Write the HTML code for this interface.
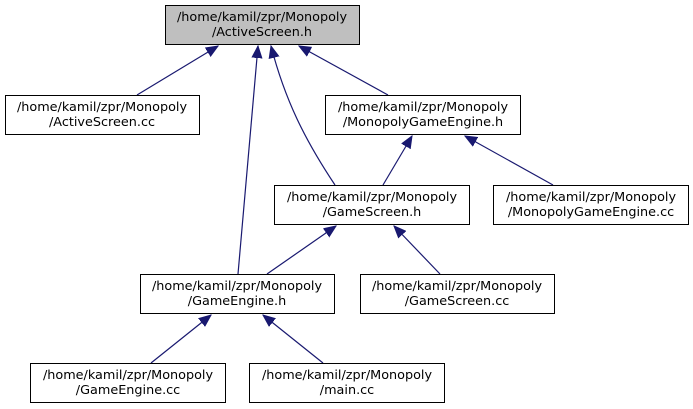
<!DOCTYPE html>
<html><head><meta charset="utf-8"><style>
html,body{margin:0;padding:0;background:#fff;}
svg{display:block;}
text{font-family:"DejaVu Sans","Liberation Sans",sans-serif;font-size:12.8px;fill:#000;}
</style></head><body>
<svg width="693" height="409" viewBox="0 0 693 409" xmlns="http://www.w3.org/2000/svg">
<defs>
<marker id="a" markerWidth="13" markerHeight="11" refX="12" refY="5.5" orient="auto" markerUnits="userSpaceOnUse">
<path d="M0,0.5 L12,5.5 L0,10.5 Z" fill="#191970" stroke="#191970"/>
</marker>
</defs>
<g stroke="#191970" stroke-width="1.2" fill="none">
<path d="M137,95 L218,46" marker-end="url(#a)"/>
<path d="M238,274 L258,46" marker-end="url(#a)"/>
<path d="M335,185 C305,140 285,100 271,46" marker-end="url(#a)"/>
<path d="M388,95 L299,46" marker-end="url(#a)"/>
<path d="M383,185 L412,136" marker-end="url(#a)"/>
<path d="M553,185 L465,136" marker-end="url(#a)"/>
<path d="M267,274 L336,226" marker-end="url(#a)"/>
<path d="M440,274 L394,226" marker-end="url(#a)"/>
<path d="M151,363 L211,315" marker-end="url(#a)"/>
<path d="M323,363 L263,315" marker-end="url(#a)"/>
</g>
<g stroke="#000" stroke-width="1">
<rect x="165.5" y="5.5" width="194" height="39" fill="#bfbfbf"/>
<rect x="5.5" y="95.5" width="194" height="39" fill="#fff"/>
<rect x="325.5" y="95.5" width="195" height="39" fill="#fff"/>
<rect x="274.5" y="185.5" width="195" height="39" fill="#fff"/>
<rect x="493.5" y="185.5" width="195" height="39" fill="#fff"/>
<rect x="140.5" y="274.5" width="194" height="39" fill="#fff"/>
<rect x="360.5" y="274.5" width="194" height="39" fill="#fff"/>
<rect x="30.5" y="363.5" width="195" height="39" fill="#fff"/>
<rect x="249.5" y="363.5" width="195" height="39" fill="#fff"/>
</g>
<g text-anchor="middle">
<text x="262" y="21">/home/kamil/zpr/Monopoly</text><text x="262" y="36">/ActiveScreen.h</text>
<text x="102" y="111">/home/kamil/zpr/Monopoly</text><text x="102" y="126">/ActiveScreen.cc</text>
<text x="423" y="111">/home/kamil/zpr/Monopoly</text><text x="423" y="126">/MonopolyGameEngine.h</text>
<text x="372" y="201">/home/kamil/zpr/Monopoly</text><text x="372" y="216">/GameScreen.h</text>
<text x="591" y="201">/home/kamil/zpr/Monopoly</text><text x="591" y="216">/MonopolyGameEngine.cc</text>
<text x="237" y="290">/home/kamil/zpr/Monopoly</text><text x="237" y="305">/GameEngine.h</text>
<text x="457" y="290">/home/kamil/zpr/Monopoly</text><text x="457" y="305">/GameScreen.cc</text>
<text x="128" y="379">/home/kamil/zpr/Monopoly</text><text x="128" y="394">/GameEngine.cc</text>
<text x="347" y="379">/home/kamil/zpr/Monopoly</text><text x="347" y="394">/main.cc</text>
</g>
</svg>
</body></html>
